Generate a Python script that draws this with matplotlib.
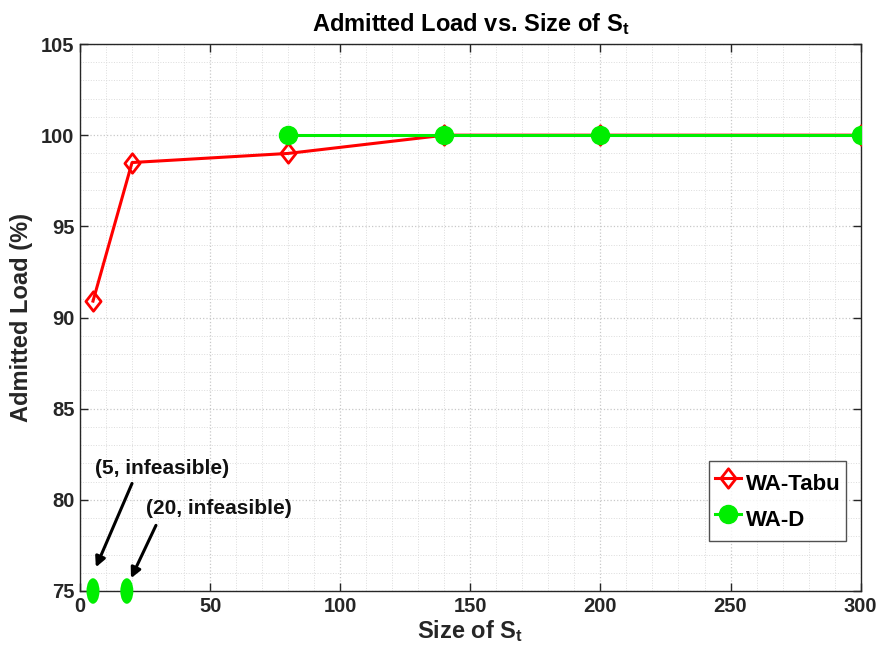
import matplotlib
matplotlib.use("Agg")
import matplotlib.pyplot as plt
from matplotlib.patches import Ellipse
from matplotlib.path import Path
from matplotlib.ticker import MultipleLocator

plt.rcParams['font.family'] = ['Liberation Sans', 'DejaVu Sans']
plt.rcParams['font.weight'] = 'bold'
plt.rcParams['mathtext.fontset'] = 'custom'
plt.rcParams['mathtext.rm'] = 'Liberation Sans:bold'
plt.rcParams['mathtext.it'] = 'Liberation Sans:bold'
plt.rcParams['mathtext.bf'] = 'Liberation Sans:bold'

# Data
tabu_x = [5, 20, 80, 140, 200, 300]
tabu_y = [90.9, 98.5, 99.0, 100, 100, 100]
wad_x = [80, 140, 200, 300]
wad_y = [100, 100, 100, 100]
infeasible_x = [5, 18]
infeasible_y = [75, 75]
infeasible_labels = ['(5, infeasible)', '(20, infeasible)']

fig = plt.figure(figsize=(8.8, 6.63), dpi=100)
ax = fig.add_axes([0.0909, 0.1086, 0.978 - 0.0909, 0.9336 - 0.1086])

diamond = Path([(0, 1), (0.78, 0), (0, -1), (-0.78, 0), (0, 1)],
               [Path.MOVETO, Path.LINETO, Path.LINETO, Path.LINETO, Path.CLOSEPOLY])

ax.plot(tabu_x, tabu_y, color='#ff0000', lw=2.2, marker=diamond, markersize=14,
        markerfacecolor='none', markeredgecolor='#ff0000', markeredgewidth=2,
        label='WA-Tabu', zorder=3)
ax.plot(wad_x, wad_y, color='#00ee00', lw=2.2, marker='o', markersize=13,
        markerfacecolor='#00ee00', markeredgecolor='#00ee00', label='WA-D', zorder=4)

for x, y in zip(infeasible_x, infeasible_y):
    e = Ellipse((x, y), 5.0, 1.4, facecolor='#00ee00', edgecolor='none',
                clip_on=False, zorder=5)
    ax.add_patch(e)

# annotation texts
ax.text(31.5, 81.7, infeasible_labels[0], ha='center', va='center',
        fontsize=15, fontweight='bold', color='#111111')
ax.text(53.4, 79.5, infeasible_labels[1], ha='center', va='center',
        fontsize=15, fontweight='bold', color='#111111')
# arrows
arrow_kw = dict(arrowstyle='-|>', color='black', lw=2.2, mutation_scale=15,
                shrinkA=0, shrinkB=0)
ax.annotate('', xy=(6.1, 76.3), xytext=(20.0, 80.9), arrowprops=arrow_kw)
ax.annotate('', xy=(19.6, 75.7), xytext=(29.2, 78.6), arrowprops=arrow_kw)

ax.set_xlim(0, 300)
ax.set_ylim(75, 105)
ax.xaxis.set_major_locator(MultipleLocator(50))
ax.xaxis.set_minor_locator(MultipleLocator(10))
ax.yaxis.set_major_locator(MultipleLocator(5))
ax.yaxis.set_minor_locator(MultipleLocator(1))
ax.grid(True, which='major', linestyle=':', color='#c8c8c8', lw=0.9)
ax.grid(True, which='minor', linestyle=':', color='#dcdcdc', lw=0.7)
ax.set_axisbelow(True)
ax.tick_params(which='major', direction='in', length=6, top=True, right=True,
               labelsize=14.5, width=1, colors='#262626', labelcolor='#262626',
               pad=4)
ax.tick_params(which='minor', length=0)
for lab in ax.get_xticklabels() + ax.get_yticklabels():
    lab.set_fontweight('bold')
for s in ax.spines.values():
    s.set_color('#262626')
    s.set_linewidth(1)

ax.set_xlabel(r'Size of S$_{t}$', fontsize=17, fontweight='bold', color='#262626',
              labelpad=2)
ax.set_ylabel('Admitted Load (%)', fontsize=17, fontweight='bold', color='#262626',
              labelpad=6)
ax.set_title(r'Admitted Load vs. Size of S$_{t}$', fontsize=17, fontweight='bold',
             pad=9)

leg = ax.legend(loc='lower right', bbox_to_anchor=(0.981, 0.0914), fontsize=16,
                frameon=True, fancybox=False, edgecolor='#262626',
                handlelength=1.2, handleheight=1.9, borderpad=0.25,
                labelspacing=0.15, handletextpad=0.2, borderaxespad=0)
leg.get_frame().set_linewidth(1)
for t in leg.get_texts():
    t.set_fontweight('bold')

fig.savefig('out.png', dpi=100, facecolor='white')
